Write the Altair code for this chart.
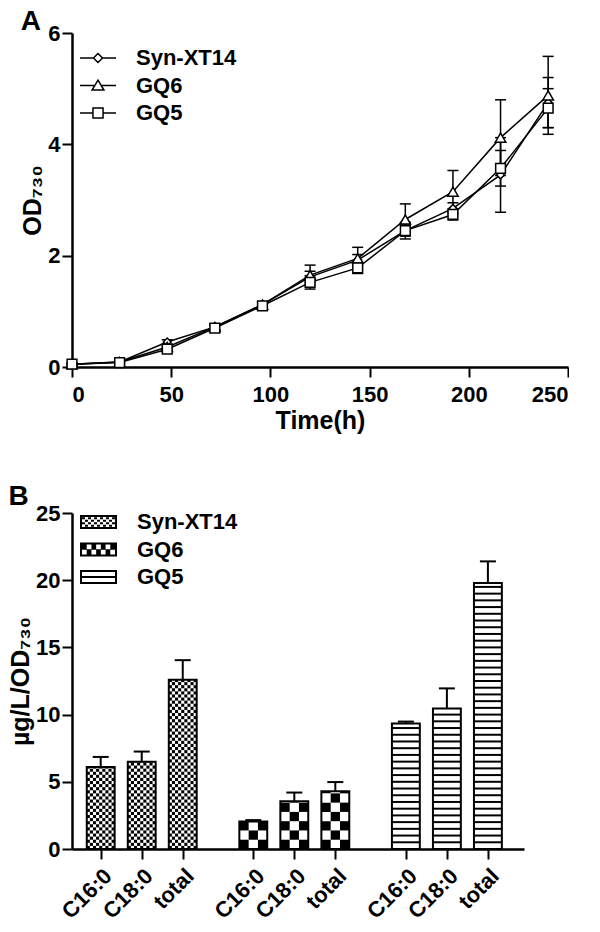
import altair as alt
import numpy as np
import pandas as pd

# ---------------- Panel A: growth curves ----------------
time_h = [0, 24, 48, 72, 96, 120, 144, 168, 192, 216, 240]
strains = ["Syn-XT14", "GQ6", "GQ5"]
od_syn = [0.05, 0.09, 0.45, 0.72, 1.12, 1.62, 1.92, 2.45, 2.85, 3.45, 4.75]
od_gq6 = [0.05, 0.09, 0.36, 0.72, 1.12, 1.65, 1.95, 2.65, 3.15, 4.12, 4.88]
od_gq5 = [0.05, 0.08, 0.32, 0.70, 1.10, 1.52, 1.78, 2.45, 2.74, 3.57, 4.65]
err_syn = [0.02, 0.02, 0.04, 0.05, 0.05, 0.10, 0.10, 0.10, 0.10, 0.67, 0.45]
err_gq6 = [0.02, 0.02, 0.04, 0.05, 0.05, 0.18, 0.20, 0.28, 0.38, 0.68, 0.70]
err_gq5 = [0.02, 0.02, 0.04, 0.05, 0.05, 0.12, 0.10, 0.15, 0.10, 0.32, 0.35]
x_ticks_a = [0, 50, 100, 150, 200, 250]
y_ticks_a = [0, 2, 4, 6]

# ---------------- Panel B: fatty acid content ----------------
fatty = ["C16:0", "C18:0", "total"]
fa_syn = [6.1, 6.5, 12.6]
fa_gq6 = [2.05, 3.55, 4.3]
fa_gq5 = [9.33, 10.45, 19.8]
sd_syn = [0.75, 0.75, 1.45]
sd_gq6 = [0.10, 0.65, 0.68]
sd_gq5 = [0.15, 1.50, 1.60]
y_ticks_b = [0, 5, 10, 15, 20, 25]

FONT = "Liberation Sans"
GROUP_STRIDE = 3.72   # slot layout of the grouped bars
HALF = 0.34           # half bar width in slot units

# ---- table A
rows = []
for s, vals, errs in zip(strains, [od_syn, od_gq6, od_gq5], [err_syn, err_gq6, err_gq5]):
    for t, v, e in zip(time_h, vals, errs):
        rows.append({"strain": s, "time": t, "od": v, "lo": v - e, "hi": v + e})
df_a = pd.DataFrame(rows)

ax_common = dict(labelFontSize=22, labelFontWeight="bold", titleFontSize=25,
                 titleFontWeight="bold", grid=False, domainWidth=2.5, tickWidth=2,
                 tickSize=10, domainColor="black", tickColor="black",
                 labelColor="black", titleColor="black", labelFont=FONT, titleFont=FONT)

xa_axis = alt.Axis(values=x_ticks_a, title="Time(h)", labelPadding=7, titlePadding=3, **ax_common)
ya_axis = alt.Axis(values=y_ticks_a, title="OD₇₃₀", labelPadding=2, titlePadding=2, **ax_common)
xs_a = alt.Scale(domain=[0, 250], nice=False)
ys_a = alt.Scale(domain=[0, 6], nice=False)

def XA(f):
    return alt.X(f, type="quantitative", scale=xs_a, axis=xa_axis)

def YA(f):
    return alt.Y(f, type="quantitative", scale=ys_a, axis=ya_axis)

base_a = alt.Chart(df_a)
lines = base_a.mark_line(color="black", strokeWidth=1.5).encode(x=XA("time"), y=YA("od"), detail="strain:N")
err_rule = base_a.mark_rule(color="black", strokeWidth=1.5).encode(x=XA("time"), y=YA("lo"), y2="hi:Q")
cap_hi = base_a.mark_tick(orient="horizontal", color="black", size=11, thickness=1.5, opacity=1).encode(x=XA("time"), y=YA("hi"))
cap_lo = base_a.mark_tick(orient="horizontal", color="black", size=11, thickness=1.5, opacity=1).encode(x=XA("time"), y=YA("lo"))

marker_shapes = ["diamond", "triangle-up", "square"]
marker_sizes = [60, 110, 95]
point_layers = []
for s, shp, sz in zip(strains, marker_shapes, marker_sizes):
    point_layers.append(
        base_a.transform_filter(alt.datum.strain == s)
        .mark_point(shape=shp, filled=True, fill="white", stroke="black", strokeWidth=1.5, size=sz, opacity=1)
        .encode(x=XA("time"), y=YA("od"))
    )

# legend symbols: line + hollow marker (unit = sqrt(size)/2 = 18 px)
leg_paths_a = [
    "M-1,0L-0.25,0M0.25,0L1,0M0,-0.25L0.25,0L0,0.25L-0.25,0Z",
    "M-1,0L-0.18,0M0.18,0L1,0M0,-0.3L0.33,0.25L-0.33,0.25Z",
    "M-1,0L-0.28,0M0.28,0L1,0M-0.28,-0.28L0.28,-0.28L0.28,0.28L-0.28,0.28Z",
]
# legend-only layer: its own marks are placed outside the clipped plot area
legend_a = base_a.transform_calculate(off="-100").mark_point(
    filled=False, color="black", strokeWidth=1.5, opacity=1, clip=True
).encode(
    x=XA("time"), y=YA("off"),
    shape=alt.Shape("strain:N", scale=alt.Scale(domain=strains, range=leg_paths_a),
                    legend=alt.Legend(title=None, orient="none", legendX=7, legendY=14,
                                      symbolSize=1296, symbolStrokeWidth=1.5,
                                      symbolStrokeColor="black",
                                      labelFontSize=22, labelFontWeight="bold", labelFont=FONT,
                                      labelColor="black", labelOffset=19, rowPadding=5.5,
                                      clipHeight=22, padding=0)),
)

chart_a = alt.layer(lines, err_rule, cap_hi, cap_lo, *point_layers, legend_a).properties(
    width=496, height=334,
    title=alt.TitleParams("A", anchor="start", frame="bounds", fontSize=28, fontWeight="bold",
                          font=FONT, color="black", offset=-14, dx=0),
)

# ---- table B
rows_b = []
for gi, (s, vals, errs) in enumerate(zip(strains, [fa_syn, fa_gq6, fa_gq5], [sd_syn, sd_gq6, sd_gq5])):
    for ci, (f, v, e) in enumerate(zip(fatty, vals, errs)):
        pos = round(gi * GROUP_STRIDE + ci, 3)
        rows_b.append({"strain": s, "fa": f, "pos": pos, "left": pos - HALF, "right": pos + HALF,
                       "value": v, "top": v + e})
df_b = pd.DataFrame(rows_b)
positions = [r["pos"] for r in rows_b]
labels_b = [r["fa"] for r in rows_b]

# pattern cells (decoration of each bar)
cells = []
stripes = []
for r in rows_b:
    v = r["value"]
    if r["strain"] in ("Syn-XT14", "GQ6"):
        ncol, cy = (9, 0.23) if r["strain"] == "Syn-XT14" else (3, 0.69)
        cx = 2 * HALF / ncol
        nrow = int(np.ceil(v / cy))
        for i in range(nrow):
            for j in range(ncol):
                if (i + j) % 2 == 0:
                    cells.append({"x": r["left"] + j * cx, "x2": r["left"] + (j + 1) * cx,
                                  "y": i * cy, "y2": min((i + 1) * cy, v)})
    else:
        for yy in np.arange(0.5, v - 0.15, 0.5):
            stripes.append({"x": r["left"], "x2": r["right"], "y": float(yy)})
df_cells = pd.DataFrame(cells)
df_stripes = pd.DataFrame(stripes)

label_expr = ("[" + ",".join("'%s'" % l for l in labels_b) + "][indexof([" +
              ",".join(repr(p) for p in positions) + "], datum.value)]")
xb_axis = alt.Axis(values=positions, title=None, labelAngle=-45, labelAlign="right",
                   labelBaseline="top", labelPadding=6, labelOverlap=False, labelFlush=False,
                   labelExpr=label_expr, **ax_common)
yb_axis = alt.Axis(values=y_ticks_b, title="µg/L/OD₇₃₀", labelPadding=2, titlePadding=2, **ax_common)
xs_b = alt.Scale(domain=[-0.7, 2 * GROUP_STRIDE + 2 + 0.88], nice=False, zero=False)
ys_b = alt.Scale(domain=[0, 25], nice=False)

def XB(f):
    return alt.X(f, type="quantitative", scale=xs_b, axis=xb_axis)

def YB(f):
    return alt.Y(f, type="quantitative", scale=ys_b, axis=yb_axis)

base_b = alt.Chart(df_b)
bar_fill = base_b.mark_rect(fill="white").encode(x=XB("left"), x2="right:Q", y=YB("value"), y2=alt.datum(0))
cell_layer = alt.Chart(df_cells).mark_rect(fill="black").encode(x=XB("x"), x2="x2:Q", y=YB("y"), y2="y2:Q")
stripe_layer = alt.Chart(df_stripes).mark_rule(color="black", strokeWidth=2).encode(x=XB("x"), x2="x2:Q", y=YB("y"))
bar_outline = base_b.mark_rect(fillOpacity=0, stroke="black", strokeWidth=2).encode(
    x=XB("left"), x2="right:Q", y=YB("value"), y2=alt.datum(0))
err_b = base_b.mark_rule(color="black", strokeWidth=2).encode(x=XB("pos"), y=YB("value"), y2="top:Q")
cap_b = base_b.mark_tick(orient="horizontal", color="black", size=16, thickness=2, opacity=1).encode(
    x=XB("pos"), y=YB("top"))

# legend swatches as stroked custom paths, built in px and scaled to symbol units
U = 18.5  # px per symbol unit (sqrt(1369)/2)

def seg(x0, x1, y):
    return "M%.3f,%.3fL%.3f,%.3f" % (x0 / U, y / U, x1 / U, y / U)

frame = "M%.3f,%.3fL%.3f,%.3fL%.3f,%.3fL%.3f,%.3fZ" % (
    -17.5 / U, -6 / U, 17.5 / U, -6 / U, 17.5 / U, 6 / U, -17.5 / U, 6 / U)

def checker_segments(nc, nr, sub):
    x0, y0, w_all, h_all = -16.5, -5.0, 33.0, 10.0
    w, h = w_all / nc, h_all / nr
    p = ""
    for i in range(nr):
        for j in range(nc):
            if (i + j) % 2 == 0:
                for k in range(sub):
                    yy = y0 + i * h + (k + 0.5) * h / sub
                    p += seg(x0 + j * w, x0 + (j + 1) * w, yy)
    return p

leg_paths_b = [
    frame + checker_segments(11, 4, 1),
    frame + checker_segments(7, 2, 3),
    frame + seg(-16.5, 16.5, 0),
]
legend_b = base_b.transform_calculate(off="-100").mark_point(
    filled=False, color="black", strokeWidth=2, opacity=1, clip=True
).encode(
    x=XB("pos"), y=YB("off"),
    shape=alt.Shape("strain:N", scale=alt.Scale(domain=strains, range=leg_paths_b),
                    legend=alt.Legend(title=None, orient="none", legendX=7, legendY=-2,
                                      symbolSize=1369, symbolStrokeWidth=2,
                                      symbolStrokeColor="black",
                                      labelFontSize=22, labelFontWeight="bold", labelFont=FONT,
                                      labelColor="black", labelOffset=19, rowPadding=5.5,
                                      clipHeight=22, padding=0)),
)

chart_b = alt.layer(bar_fill, cell_layer, stripe_layer, bar_outline, err_b, cap_b, legend_b).properties(
    width=452, height=336,
    title=alt.TitleParams("B", anchor="start", frame="bounds", fontSize=28, fontWeight="bold",
                          font=FONT, color="black", offset=-9, dx=0),
)

chart = alt.vconcat(chart_a, chart_b, spacing=50).resolve_scale(
    shape="independent"
).resolve_legend(
    shape="independent"
).properties(padding=0).configure(
    font=FONT
).configure_view(stroke=None)

chart.save("out.html", embed_options={"renderer": "svg", "actions": False})
